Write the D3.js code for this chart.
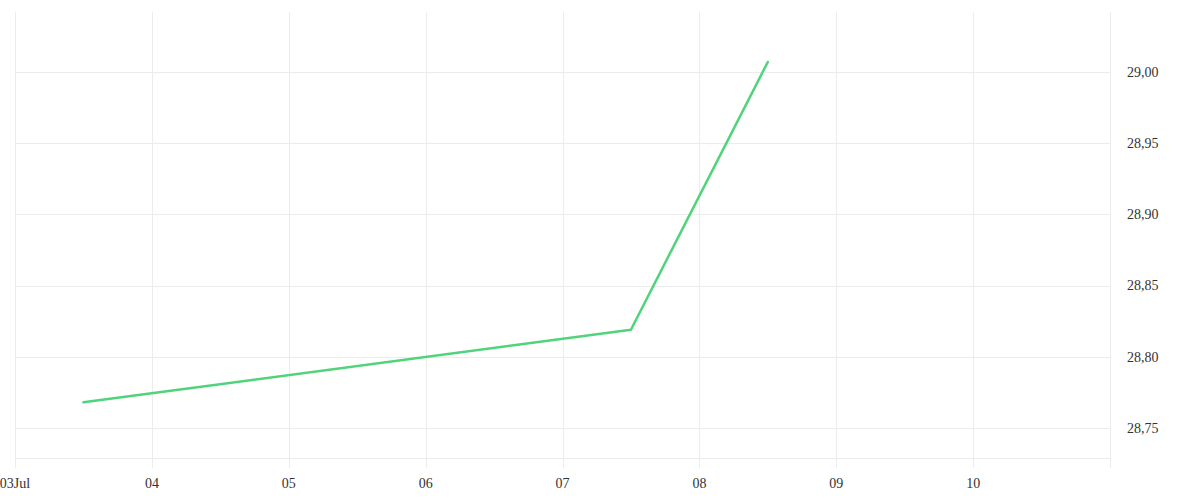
<!DOCTYPE html>
<html><head><meta charset="utf-8">
<script src="https://cdn.jsdelivr.net/npm/d3@7"></script>
<style>
html,body{margin:0;padding:0;background:#fff;}
svg text{font-family:"Liberation Serif","Times New Roman",serif;font-size:14px;fill:#333;}
</style></head>
<body><svg id="c" width="1200" height="500"></svg>
<script>
const dates = ["2023-07-03T12:00","2023-07-07T12:00","2023-07-08T12:00"];
const values = [28.768, 28.819, 29.007];
const yTicks = [28.75, 28.80, 28.85, 28.90, 28.95, 29.00];
const xTickDays = ["2023-07-03","2023-07-04","2023-07-05","2023-07-06","2023-07-07","2023-07-08","2023-07-09","2023-07-10"];
const xTickLabels = ["03Jul","04","05","06","07","08","09","10"];
const xDomain = ["2023-07-03","2023-07-11"];
const yDomain = [28.7289, 29.0421];

(function(){
const parse = d3.timeParse("%Y-%m-%dT%H:%M");
const parseDay = d3.timeParse("%Y-%m-%d");
const pL = 15, pR = 1110, pT = 12, pB = 458;
const svg = d3.select("#c");
const x = d3.scaleTime().domain(xDomain.map(parseDay)).range([pL, pR]);
const y = d3.scaleLinear().domain(yDomain).range([pB, pT]);
const loc = d3.formatLocale({decimal:",",thousands:".",grouping:[3],currency:["",""]});
const fmt = loc.format(".2f");
const grid = "#ececec";

svg.append("g").selectAll("line").data(yTicks).join("line")
  .attr("x1", pL).attr("x2", pR)
  .attr("y1", d => Math.round(y(d)) + 0.5).attr("y2", d => Math.round(y(d)) + 0.5)
  .attr("stroke", grid).attr("stroke-width", 1);
svg.append("line").attr("x1", pL).attr("x2", pR)
  .attr("y1", pB + 0.5).attr("y2", pB + 0.5).attr("stroke", grid);
const xt = xTickDays.map(parseDay);
svg.append("g").selectAll("line").data(xt).join("line")
  .attr("x1", d => Math.round(x(d)) + 0.5).attr("x2", d => Math.round(x(d)) + 0.5)
  .attr("y1", pT).attr("y2", pB + 10)
  .attr("stroke", grid).attr("stroke-width", 1);
svg.append("line").attr("x1", pR + 0.5).attr("x2", pR + 0.5)
  .attr("y1", pT).attr("y2", pB + 10).attr("stroke", grid);

svg.append("g").selectAll("text").data(xt).join("text")
  .attr("x", d => x(d)).attr("y", 488).attr("text-anchor", "middle")
  .text((d, i) => xTickLabels[i]);
svg.append("g").selectAll("text").data(yTicks).join("text")
  .attr("x", 1127).attr("y", d => y(d)).attr("dy", "0.35em")
  .text(d => fmt(d));

const pts = dates.map((d, i) => ({t: parse(d), v: values[i]}));
svg.append("path").datum(pts)
  .attr("fill", "none").attr("stroke", "#4fd47b").attr("stroke-width", 2.5)
  .attr("stroke-linejoin", "round").attr("stroke-linecap", "round")
  .attr("d", d3.line().x(d => x(d.t)).y(d => y(d.v)));
})();
</script></body></html>
